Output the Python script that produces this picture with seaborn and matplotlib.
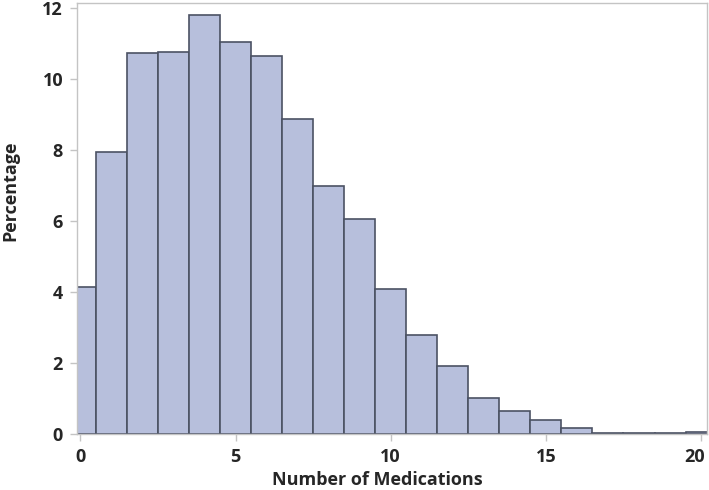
#!/usr/bin/env python3
# Histogram of the number of medications per patient (percentage)

import matplotlib
matplotlib.use("Agg")
import matplotlib.pyplot as plt
import matplotlib.transforms as mtransforms
import seaborn as sns

# Data
medications = list(range(21))
percentage = [4.12, 7.94, 10.72, 10.75, 11.8, 11.03, 10.63, 8.87, 6.98, 6.06,
              4.08, 2.77, 1.92, 1.0, 0.63, 0.39, 0.16, 0.03, 0.03, 0.03, 0.06]
x_ticks = [0, 5, 10, 15, 20]
y_ticks = [0, 2, 4, 6, 8, 10, 12]

sns.set_style("white")
plt.rcParams['font.family'] = ['Open Sans', 'DejaVu Sans']

fig = plt.figure(figsize=(7.09, 4.90), dpi=100)
ax = fig.add_axes([0.1086, 0.1149, 0.8885, 0.879])

sns.histplot(x=medications, weights=percentage, discrete=True,
             color="#b7bfdc", edgecolor="#4b5263", linewidth=1.2,
             alpha=1.0, ax=ax)

ax.set_xlim(-0.11, 20.19)
ax.set_ylim(0, 12.13)
ax.set_xticks(x_ticks)
ax.set_yticks(y_ticks)

for side in ["left", "right", "top", "bottom"]:
    ax.spines[side].set_color("#c4c4c4")
    ax.spines[side].set_linewidth(1.0)

ax.tick_params(axis="both", which="major", direction="out", length=5,
               width=1.0, color="#c4c4c4", labelsize=13, pad=5,
               bottom=True, left=True)
for lbl in ax.get_xticklabels() + ax.get_yticklabels():
    lbl.set_fontweight("bold")

# the last x label sits a little left so it stays inside the figure
last = ax.get_xticklabels()[-1]
last.set_transform(last.get_transform() +
                   mtransforms.ScaledTranslation(-6 / 100, 0, fig.dpi_scale_trans))

ax.set_xlabel("Number of Medications", fontsize=13, fontweight="bold", va="center")
ax.set_ylabel("Percentage", fontsize=13, fontweight="bold", va="center")
ax.xaxis.set_label_coords(0.476, -0.107)
ax.yaxis.set_label_coords(-0.106, 0.565)

fig.savefig("out.png", dpi=100)
